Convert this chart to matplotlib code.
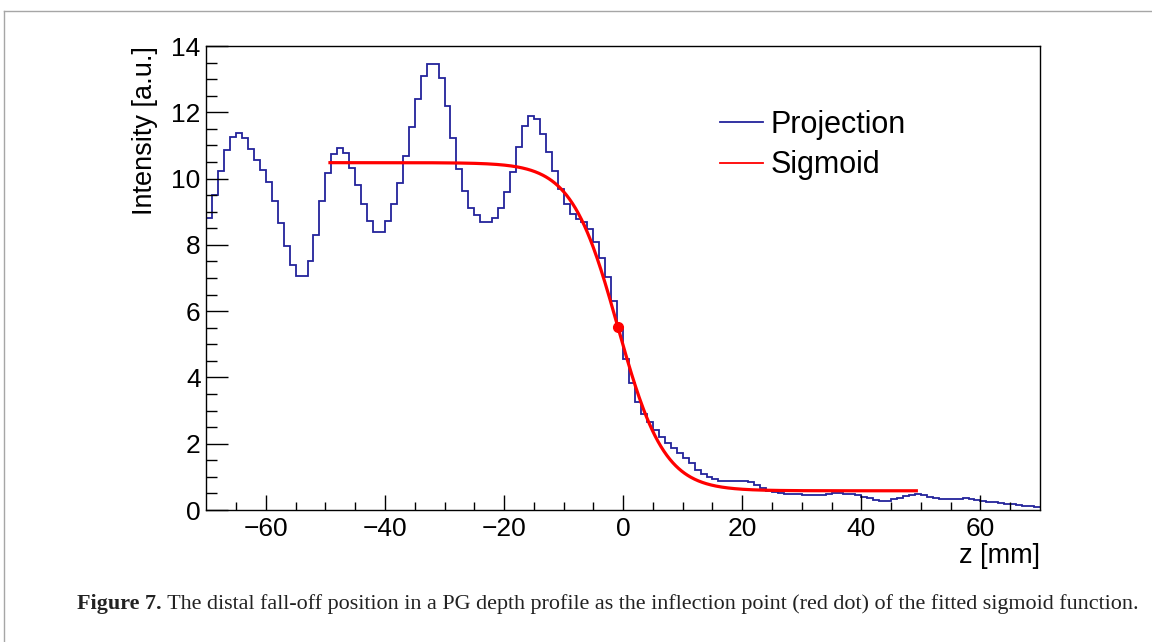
import numpy as np
import matplotlib
matplotlib.use("Agg")
import matplotlib.pyplot as plt
from matplotlib.lines import Line2D

# ---------------- data ----------------
bin_lo, bin_hi = -70, 70          # 1 mm bins
projection = [
    8.82, 9.49, 10.23, 10.86, 11.25, 11.36, 11.21, 10.89, 10.56, 10.27,   # -70 .. -61
    9.89, 9.32, 8.66, 7.97, 7.39, 7.06, 7.06, 7.52, 8.31, 9.31,           # -60 .. -51
    10.18, 10.74, 10.93, 10.76, 10.33, 9.80, 9.22, 8.71, 8.40, 8.40,      # -50 .. -41
    8.71, 9.22, 9.88, 10.69, 11.55, 12.40, 13.08, 13.46, 13.46, 13.03,    # -40 .. -31
    12.19, 11.21, 10.28, 9.62, 9.11, 8.89, 8.70, 8.70, 8.82, 9.12,        # -30 .. -21
    9.58, 10.20, 10.94, 11.59, 11.90, 11.80, 11.34, 10.81, 10.24, 9.68,   # -20 .. -11
    9.22, 8.92, 8.79, 8.70, 8.47, 8.10, 7.61, 7.02, 6.30, 5.50,           # -10 .. -1
    4.57, 3.82, 3.25, 2.91, 2.65, 2.42, 2.19, 2.01, 1.87, 1.73,           # 0 .. 9
    1.58, 1.41, 1.22, 1.10, 1.01, 0.94, 0.89, 0.87, 0.87, 0.88,           # 10 .. 19
    0.88, 0.83, 0.74, 0.66, 0.58, 0.53, 0.50, 0.48, 0.47, 0.47,           # 20 .. 29
    0.46, 0.45, 0.44, 0.46, 0.48, 0.50, 0.51, 0.49, 0.47, 0.44,           # 30 .. 39
    0.40, 0.36, 0.31, 0.28, 0.28, 0.32, 0.37, 0.42, 0.46, 0.47,           # 40 .. 49
    0.44, 0.39, 0.35, 0.33, 0.33, 0.33, 0.34, 0.35, 0.33, 0.30,           # 50 .. 59
    0.26, 0.25, 0.23, 0.21, 0.19, 0.17, 0.15, 0.13, 0.12, 0.10,           # 60 .. 69
]

# fitted sigmoid parameters
sig_high = 10.48
sig_low = 0.58
sig_x0 = -0.9
sig_width = 3.9
fit_lo, fit_hi = -49.5, 49.5

xticks = [-60, -40, -20, 0, 20, 40, 60]
yticks = [0, 2, 4, 6, 8, 10, 12, 14]
x_label = "z [mm]"
y_label = "Intensity [a.u.]"
legend_labels = ["Projection", "Sigmoid"]
caption_bold = "Figure 7."
caption_text = (" The distal fall-off position in a PG depth profile as the inflection "
                "point (red dot) of the fitted sigmoid function.")

# ---------------- plotting ----------------
W, H = 1152, 642
SANS = ["Liberation Sans", "DejaVu Sans"]
SERIF = ["Liberation Serif", "DejaVu Serif"]
plt.rcParams["font.family"] = SANS
plt.rcParams["axes.unicode_minus"] = True

blue = "#23239b"
red = "#ff0000"


def sigmoid(x):
    return sig_low + (sig_high - sig_low) / (1.0 + np.exp((x - sig_x0) / sig_width))


fig = plt.figure(figsize=(W / 100, H / 100), dpi=100)
ax_l, ax_r, ax_t, ax_b = 206.3, 1040.0, 46.0, 510.0
ax = fig.add_axes([ax_l / W, 1 - ax_b / H, (ax_r - ax_l) / W, (ax_b - ax_t) / H])

edges = np.arange(bin_lo, bin_hi + 1)
ax.stairs(projection, edges, color=blue, lw=1.3, baseline=None)

xs = np.linspace(fit_lo, fit_hi, 600)
ax.plot(xs, sigmoid(xs), color=red, lw=2.3, solid_capstyle="butt")
ax.plot([sig_x0], [sigmoid(sig_x0)], "o", color=red, ms=7, mec=red)

ax.set_xlim(bin_lo, bin_hi)
ax.set_ylim(0, 14)
ax.set_xticks(xticks)
ax.set_yticks(yticks)
ax.set_xticks(np.arange(-65, 70, 5), minor=True)
ax.set_yticks(np.arange(0, 14.01, 0.5), minor=True)
ax.tick_params(axis="both", which="both", direction="in", top=False, right=False,
               labelsize=19, width=1.0, color="black")
ax.tick_params(axis="x", which="major", length=11, pad=5)
ax.tick_params(axis="x", which="minor", length=5.5)
ax.tick_params(axis="y", which="major", length=16, pad=4)
ax.tick_params(axis="y", which="minor", length=8)
for s in ax.spines.values():
    s.set_linewidth(1.0)

ax.set_xlabel(x_label, fontsize=19.5, loc="right")
ax.xaxis.set_label_coords(1.0, -0.072)
ax.set_ylabel(y_label, fontsize=19.5, loc="top")
ax.yaxis.set_label_coords(-0.0575, 1.0)

handles = [Line2D([], [], color=blue, lw=1.3), Line2D([], [], color=red, lw=1.3)]
ax.legend(handles, legend_labels, loc="upper left",
          bbox_to_anchor=((720 - ax_l) / (ax_r - ax_l), (ax_b - 109.5) / (ax_b - ax_t)),
          frameon=False, fontsize=22, handlelength=1.4, handletextpad=0.26,
          borderpad=0, borderaxespad=0, labelspacing=0.36)

# outer frame (page box)
frame_col = "#a6a6a6"
fig.add_artist(Line2D([3.5 / W, 1.0], [1 - 11 / H, 1 - 11 / H], transform=fig.transFigure,
                      color=frame_col, lw=1.0))
fig.add_artist(Line2D([3.5 / W, 3.5 / W], [0.0, 1 - 11 / H], transform=fig.transFigure,
                      color=frame_col, lw=1.0))

# caption
fig.canvas.draw()
r = fig.canvas.get_renderer()
cap_y = 1 - 609 / H
t1 = fig.text(77 / W, cap_y, caption_bold, family=SERIF, weight="bold", fontsize=14,
              ha="left", va="baseline", color="#222222")
t2 = fig.text(0, cap_y, caption_text, family=SERIF, fontsize=14,
              ha="left", va="baseline", color="#222222")
target = 1140 - 77
for _ in range(3):
    b1 = t1.get_window_extent(r)
    t2.set_x(b1.x1 / W)
    b2 = t2.get_window_extent(r)
    total = b2.x1 - b1.x0
    fs = t1.get_fontsize() * target / total
    t1.set_fontsize(fs)
    t2.set_fontsize(fs)
b1 = t1.get_window_extent(r)
t2.set_x(b1.x1 / W)

fig.savefig("out.png", dpi=100)
